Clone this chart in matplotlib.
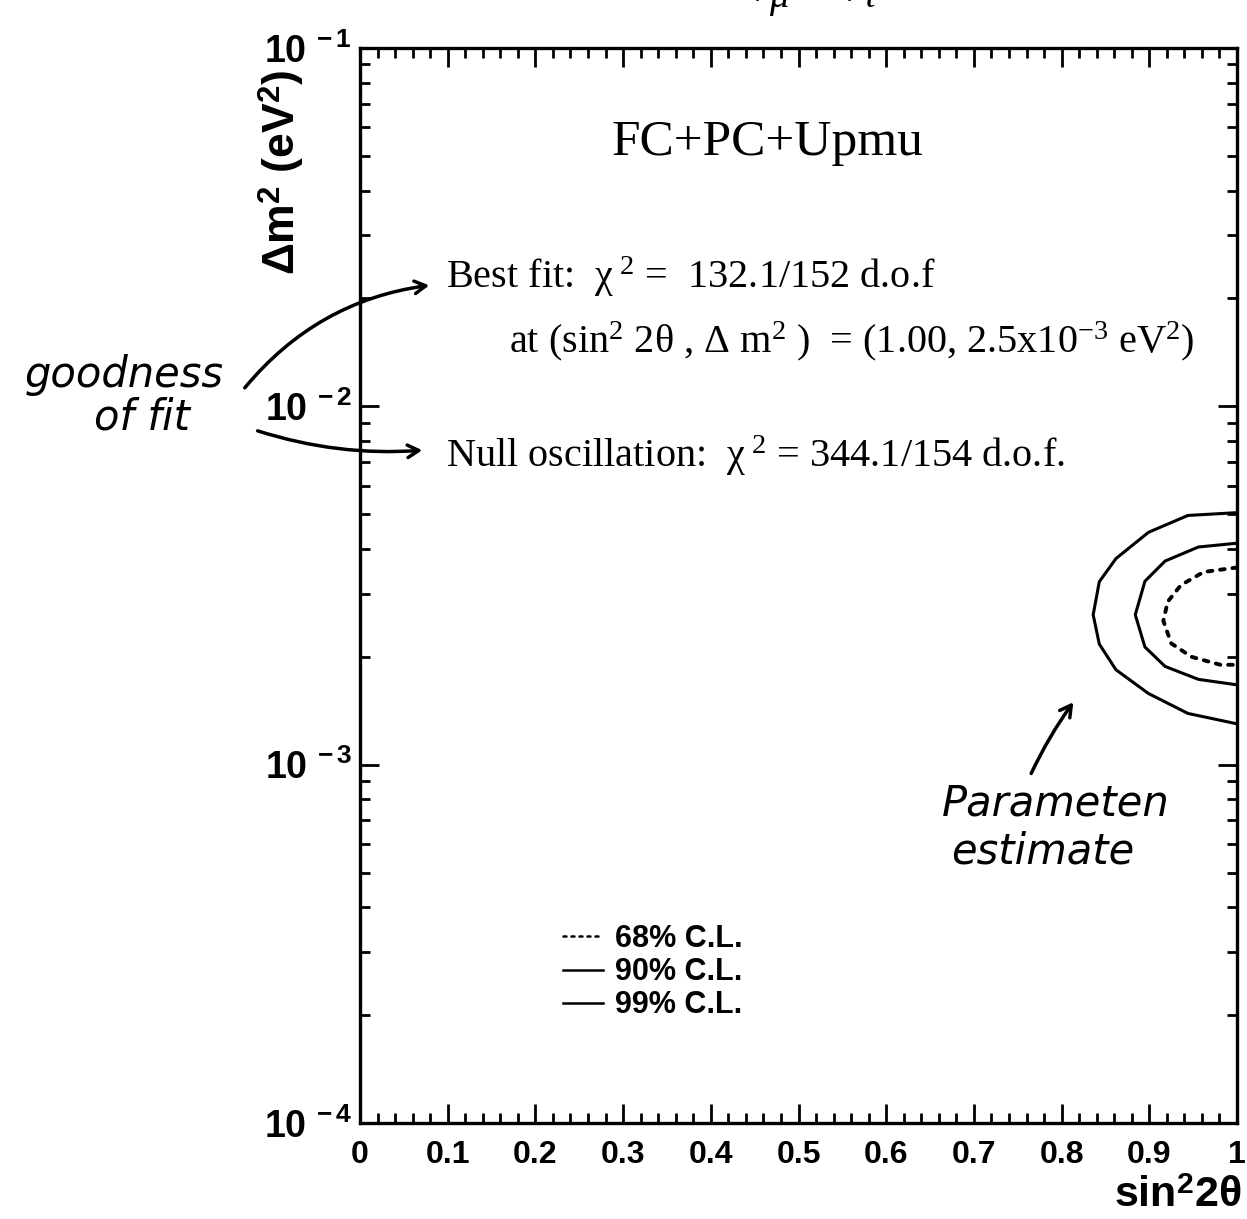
import math
import matplotlib
matplotlib.use("Agg")
import matplotlib.pyplot as plt
from matplotlib.ticker import FixedLocator, FuncFormatter, LogLocator, NullFormatter

plt.rcParams["font.family"] = "Liberation Sans"
plt.rcParams["font.weight"] = "bold"
plt.rcParams["mathtext.fontset"] = "custom"
plt.rcParams["mathtext.rm"] = "Liberation Serif:weight=normal"
plt.rcParams["mathtext.it"] = "Liberation Serif:style=italic:weight=normal"
plt.rcParams["mathtext.bf"] = "Liberation Sans:weight=bold"

# contour vertices: (sin^2 2theta, dm^2 [eV^2])
cl68_x = [1.0, 0.962, 0.936, 0.921, 0.916, 0.925, 0.948, 0.981, 1.0]
cl68_y = [3.55e-3, 3.45e-3, 3.17e-3, 2.85e-3, 2.52e-3, 2.18e-3, 2.0e-3, 1.9e-3, 1.9e-3]
cl90_x = [1.0, 0.956, 0.918, 0.895, 0.884, 0.895, 0.918, 0.956, 1.0]
cl90_y = [4.15e-3, 4.05e-3, 3.7e-3, 3.25e-3, 2.62e-3, 2.13e-3, 1.88e-3, 1.73e-3, 1.67e-3]
cl99_x = [1.0, 0.944, 0.899, 0.862, 0.843, 0.836, 0.843, 0.862, 0.899, 0.944, 1.0]
cl99_y = [5.05e-3, 4.96e-3, 4.45e-3, 3.76e-3, 3.24e-3, 2.62e-3, 2.17e-3, 1.84e-3, 1.58e-3, 1.39e-3, 1.3e-3]

x_ticks = [0, 0.1, 0.2, 0.3, 0.4, 0.5, 0.6, 0.7, 0.8, 0.9, 1]
x_ticklabels = ["0", "0.1", "0.2", "0.3", "0.4", "0.5", "0.6", "0.7", "0.8", "0.9", "1"]
y_ticks = [1e-4, 1e-3, 1e-2, 1e-1]
legend_labels = ["68% C.L.", "90% C.L.", "99% C.L."]

W, H = 1247, 1219
fig = plt.figure(figsize=(W / 100, H / 100), dpi=100)
ax = fig.add_axes([360 / W, 1 - 1123 / H, (1237 - 360) / W, (1123 - 48) / H])

ax.set_xlim(0, 1)
ax.set_yscale("log")
ax.set_ylim(1e-4, 1e-1)

l68, = ax.plot(cl68_x, cl68_y, color="black", lw=2.8, ls=(0, (1.2, 2.0)), dash_capstyle="round")
l90, = ax.plot(cl90_x, cl90_y, color="black", lw=2.2)
l99, = ax.plot(cl99_x, cl99_y, color="black", lw=2.2)

for sp in ax.spines.values():
    sp.set_linewidth(2.4)

ax.xaxis.set_major_locator(FixedLocator(x_ticks))
ax.xaxis.set_major_formatter(FuncFormatter(lambda v, p: x_ticklabels[p] if p is not None else ""))
ax.xaxis.set_minor_locator(FixedLocator([i / 50 for i in range(51)]))
ax.yaxis.set_major_locator(FixedLocator(y_ticks))
ax.yaxis.set_major_formatter(FuncFormatter(lambda v, p: r"$\mathbf{10^{\ %d}}$" % round(math.log10(v))))
ax.yaxis.set_minor_locator(LogLocator(base=10, subs=range(2, 10)))
ax.yaxis.set_minor_formatter(NullFormatter())
ax.tick_params(which="both", direction="in", top=True, right=True, width=2)
ax.tick_params(which="major", length=14)
ax.tick_params(which="minor", length=7)
ax.tick_params(axis="x", labelsize=23, pad=12)
ax.tick_params(axis="y", labelsize=27, pad=6)

ax.text(1.005, -0.049, r"sin$^{\mathbf{2}}$2θ", transform=ax.transAxes, ha="right", va="top",
        fontsize=31)
ax.text(-0.09, 0.98, r"Δm$^{\mathbf{2}}$ (eV$^{\mathbf{2}}$)", transform=ax.transAxes, ha="center",
        va="top", rotation=90, fontsize=32)

serif = dict(family="Liberation Serif", weight="normal")
ax.text(0.465, 0.912, "FC+PC+Upmu", transform=ax.transAxes, ha="center", va="center", fontsize=37, **serif)
ax.text(0.098, 0.787, r"Best fit:  χ$^{\ 2}$ =  132.1/152 d.o.f", transform=ax.transAxes, fontsize=29,
        va="center", **serif)
ax.text(0.17, 0.727, r"at (sin$^2$ 2θ , Δ m$^2$ )  = (1.00, 2.5x10$^{-3}$ eV$^2$)",
        transform=ax.transAxes, fontsize=29, va="center", **serif)
ax.text(0.098, 0.621, r"Null oscillation:  χ$^{\ 2}$ = 344.1/154 d.o.f.", transform=ax.transAxes,
        fontsize=29, va="center", **serif)

leg = ax.legend([l68, l90, l99], legend_labels, loc="lower left", bbox_to_anchor=(0.2, 0.07),
                frameon=False, handlelength=1.3, handletextpad=0.4, labelspacing=0.1,
                prop=dict(family="Liberation Sans", weight="bold", size=22))
for h in leg.legend_handles:
    h.set_linewidth(1.8)

# title clipped at the top of the page
fig.text(0.651, 0.999, r"ν$_μ$ - ν$_τ$", ha="center", va="baseline", fontsize=40, **serif)

# handwritten notes
hand = dict(family="DejaVu Sans", style="italic", weight="normal", fontsize=30)
fig.text(0.02, 1 - 375 / H, "goodness", va="center", **hand)
fig.text(0.075, 1 - 418 / H, "of fit", va="center", **hand)
fig.text(0.755, 1 - 803 / H, "Parameten", va="center", **hand)
fig.text(0.763, 1 - 852 / H, "estimate", va="center", **hand)
arrow = dict(arrowstyle="->,head_length=0.8,head_width=0.45", lw=2.5, color="black")
ax.annotate("", xy=(432 / W, 1 - 285 / H), xytext=(243 / W, 1 - 390 / H), xycoords="figure fraction",
            textcoords="figure fraction", arrowprops=dict(connectionstyle="arc3,rad=-0.2", **arrow),
            annotation_clip=False)
ax.annotate("", xy=(425 / W, 1 - 450 / H), xytext=(255 / W, 1 - 430 / H), xycoords="figure fraction",
            textcoords="figure fraction", arrowprops=dict(connectionstyle="arc3,rad=0.1", **arrow),
            annotation_clip=False)
ax.annotate("", xy=(1075 / W, 1 - 700 / H), xytext=(1030 / W, 1 - 776 / H), xycoords="figure fraction",
            textcoords="figure fraction", arrowprops=dict(connectionstyle="arc3,rad=-0.05", **arrow),
            annotation_clip=False)

fig.savefig("out.png", dpi=100)
